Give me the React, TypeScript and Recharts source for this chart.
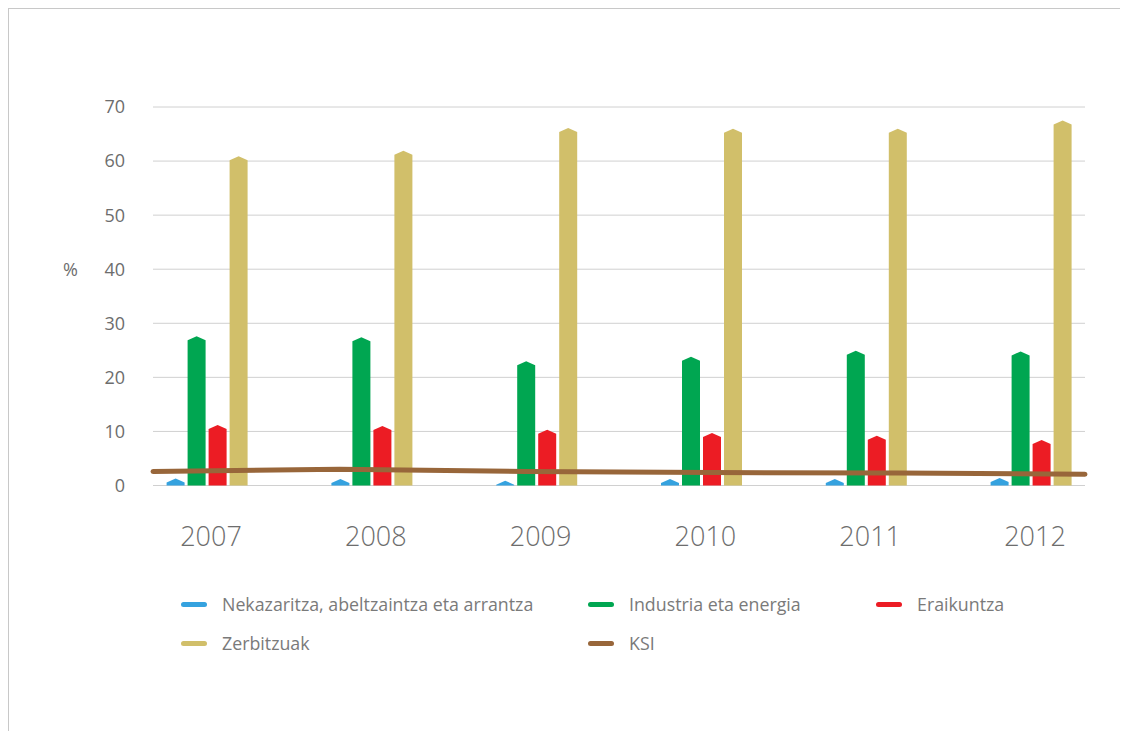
import React from "react";
import {
  Bar,
  CartesianGrid,
  ComposedChart,
  Line,
  XAxis,
  YAxis,
} from "recharts";

const years = ["2007", "2008", "2009", "2010", "2011", "2012"];
const nekazaritza = [1.3, 1.2, 0.9, 1.2, 1.2, 1.4];
const industria = [27.6, 27.4, 23.0, 23.8, 24.9, 24.8];
const eraikuntza = [11.2, 11.0, 10.3, 9.7, 9.2, 8.4];
const zerbitzuak = [60.9, 61.9, 66.1, 66.0, 66.0, 67.5];
const ksi = [2.6, 3.0, 2.6, 2.4, 2.3, 2.1];
const yTicks = [0, 10, 20, 30, 40, 50, 60, 70];

const BLUE = "#35a2df";
const GREEN = "#00a651";
const RED = "#ec1c24";
const TAN = "#d1bf6a";
const BROWN = "#98663a";
const TEXT = "#6d6d6d";
const FONT = "'Open Sans', 'Noto Sans', sans-serif";

const seriesNames = [
  "Nekazaritza, abeltzaintza eta arrantza",
  "Industria eta energia",
  "Eraikuntza",
  "Zerbitzuak",
  "KSI",
];
const seriesColors = [BLUE, GREEN, RED, TAN, BROWN];

const data = years.map((year, i) => ({
  year,
  idx: i,
  nek: nekazaritza[i],
  ind: industria[i],
  era: eraikuntza[i],
  zer: zerbitzuak[i],
  ksi: ksi[i],
}));

// bar with a small pointed top
function PointedBar(props: any) {
  const { x, y, width, height, fill } = props;
  if (!height || height <= 0) return null;
  const s = Math.min(4, height);
  const d = `M${x},${y + height} L${x},${y + s} L${x + width / 2},${y} L${x + width},${y + s} L${x + width},${y + height} Z`;
  return <path d={d} fill={fill} />;
}

function LegendBox() {
  const cols = [172, 579, 867];
  const rows = [0, 39];
  return (
    <div style={{ position: "absolute", left: 0, top: 585, width: 1119, height: 60 }}>
      {seriesNames.map((name, i) => (
        <div
          key={name}
          style={{
            position: "absolute",
            left: cols[i % 3],
            top: rows[Math.floor(i / 3)],
            display: "flex",
            alignItems: "center",
            height: 20,
          }}
        >
          <span
            style={{
              display: "inline-block",
              width: 26,
              height: 5,
              borderRadius: 3,
              background: seriesColors[i],
              marginRight: 15,
            }}
          />
          <span style={{ fontSize: 17.8, color: "#7a7a7a", whiteSpace: "nowrap" }}>{name}</span>
        </div>
      ))}
    </div>
  );
}

export default function App() {
  return (
    <div
      style={{
        position: "relative",
        width: 1119,
        height: 722,
        borderTop: "1px solid #c8c8c8",
        borderLeft: "1px solid #c8c8c8",
        fontFamily: FONT,
      }}
    >
      <ComposedChart
        width={1119}
        height={700}
        data={data}
        margin={{ top: 98, right: 43, left: 54, bottom: 163.5 }}
        barSize={18}
        barGap={3}
      >
        <CartesianGrid horizontal vertical={false} stroke="#d0d0d0" />
        <XAxis
          xAxisId="cat"
          dataKey="year"
          axisLine={false}
          tickLine={false}
          tickSize={0}
          tickMargin={41}
          padding={{ left: -28.4, right: -28.4 }}
          tick={{ fontSize: 27, fill: TEXT, fontWeight: 300, fontFamily: FONT, dx: 4 }}
          height={60}
        />
        <XAxis xAxisId="num" type="number" dataKey="idx" domain={[0, 5]} hide />
        <YAxis
          domain={[0, 70]}
          ticks={yTicks}
          axisLine={false}
          tickLine={false}
          tickSize={0}
          tickMargin={28}
          width={90}
          tick={{ fontSize: 18, fill: TEXT, fontFamily: FONT }}
          label={{
            value: "%",
            position: "insideLeft",
            offset: 0,
            dy: -27,
            style: { fontSize: 18, fill: TEXT, fontFamily: FONT },
          }}
        />
        <Bar xAxisId="cat" dataKey="nek" name={seriesNames[0]} fill={BLUE} shape={<PointedBar />} isAnimationActive={false} />
        <Bar xAxisId="cat" dataKey="ind" name={seriesNames[1]} fill={GREEN} shape={<PointedBar />} isAnimationActive={false} />
        <Bar xAxisId="cat" dataKey="era" name={seriesNames[2]} fill={RED} shape={<PointedBar />} isAnimationActive={false} />
        <Bar xAxisId="cat" dataKey="zer" name={seriesNames[3]} fill={TAN} shape={<PointedBar />} isAnimationActive={false} />
        <Line
          xAxisId="num"
          dataKey="ksi"
          name={seriesNames[4]}
          stroke={BROWN}
          strokeWidth={5}
          strokeLinecap="round"
          dot={false}
          activeDot={false}
          type="linear"
          isAnimationActive={false}
        />
      </ComposedChart>
      <LegendBox />
    </div>
  );
}
